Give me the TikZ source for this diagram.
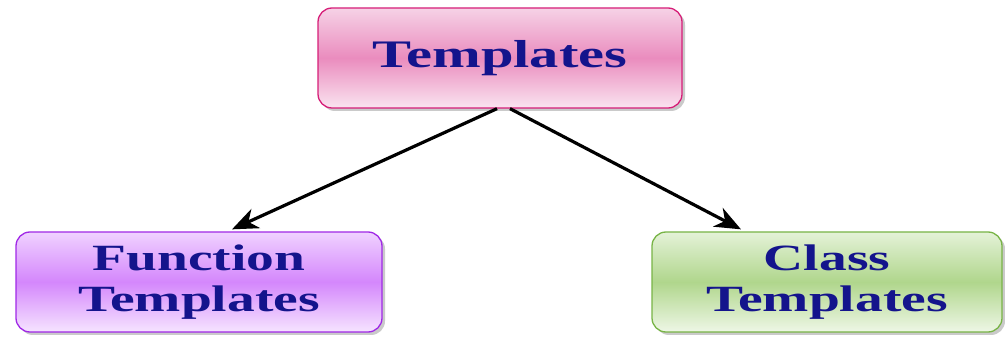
\documentclass[tikz,border=0pt]{standalone}
\usepackage{fontspec}
\usetikzlibrary{arrows.meta,shadows}

\newfontfamily\boxfont[FakeStretch=1.5]{Liberation Serif}

\definecolor{textblue}{RGB}{20,20,140}
\definecolor{pinkedge}{RGB}{214,30,120}
\definecolor{pinktop}{RGB}{246,210,230}
\definecolor{pinkmid}{RGB}{234,140,190}
\definecolor{pinkbot}{RGB}{250,228,240}
\definecolor{violetedge}{RGB}{160,40,230}
\definecolor{violettop}{RGB}{240,210,255}
\definecolor{violetmid}{RGB}{212,135,252}
\definecolor{violetbot}{RGB}{246,228,255}
\definecolor{greenedge}{RGB}{120,180,70}
\definecolor{greentop}{RGB}{228,242,216}
\definecolor{greenmid}{RGB}{176,214,140}
\definecolor{greenbot}{RGB}{238,247,230}

\tikzset{
  tbox/.style={rectangle, rounded corners=14pt, line width=1.3pt,
    align=center, text=textblue,
    drop shadow={shadow xshift=3pt, shadow yshift=-3pt, fill=black!35, opacity=0.6}},
  pinkbox/.style={tbox, draw=pinkedge, top color=pinktop, bottom color=pinkbot, middle color=pinkmid},
  violetbox/.style={tbox, draw=violetedge, top color=violettop, bottom color=violetbot, middle color=violetmid},
  greenbox/.style={tbox, draw=greenedge, top color=greentop, bottom color=greenbot, middle color=greenmid},
  link/.style={-{Stealth[length=26pt,width=21pt,inset=8pt]}, line width=3.2pt, black}
}

\begin{document}
\begin{tikzpicture}[x=1pt, y=-1pt]
  \useasboundingbox (0,0) rectangle (1005,339);

  \node[pinkbox, minimum width=364pt, minimum height=100pt,
        font=\boxfont\bfseries\fontsize{39}{44}\selectfont] (tmpl) at (500,58) {Templates};
  \node[violetbox, minimum width=366pt, minimum height=100pt,
        font=\boxfont\bfseries\fontsize{37}{41}\selectfont] (func) at (199,282) {Function\\Templates};
  \node[greenbox, minimum width=350pt, minimum height=100pt,
        font=\boxfont\bfseries\fontsize{37}{41}\selectfont] (cls) at (827,282) {Class\\Templates};

  % the two kinds of template
  \draw[link] ([xshift=-3pt]tmpl.south) -- ([xshift=33pt, yshift=2pt]func.north);
  \draw[link] ([xshift=10pt]tmpl.south) -- ([xshift=-86pt, yshift=2pt]cls.north);
\end{tikzpicture}
\end{document}
